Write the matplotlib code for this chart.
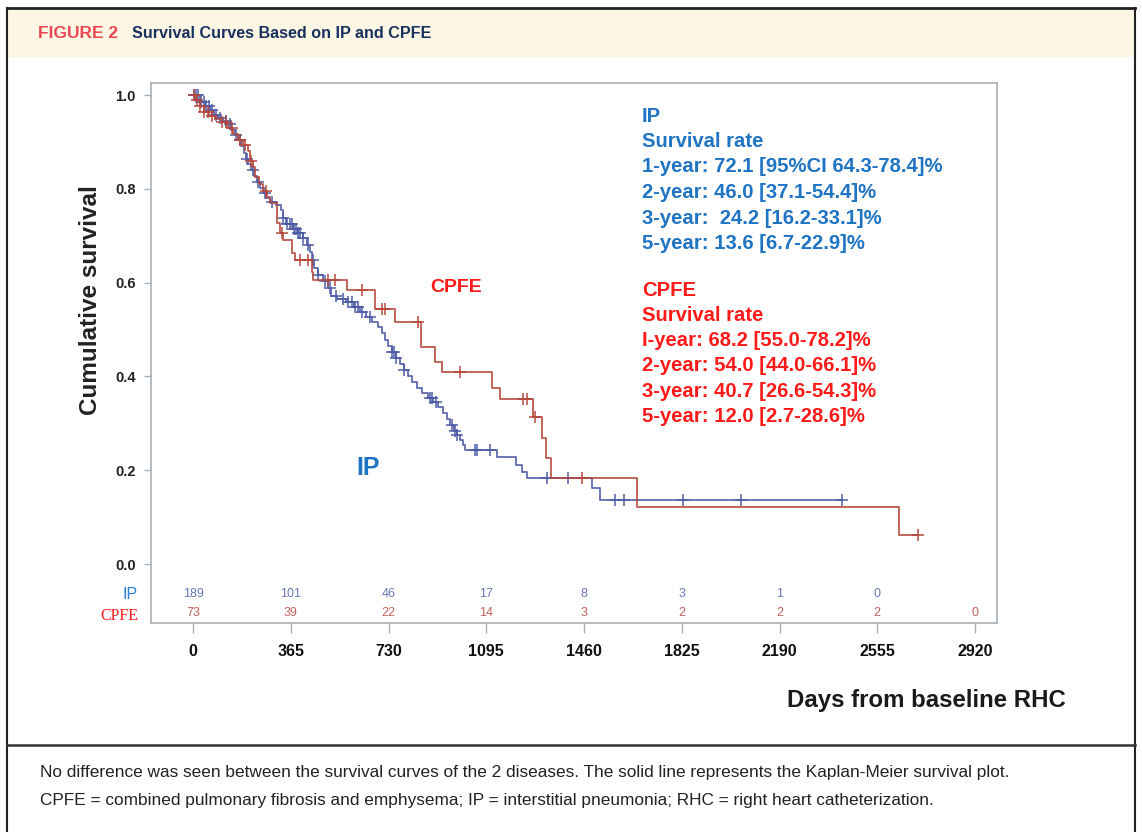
#!/usr/bin/env python3
"""Kaplan-Meier survival curves for IP and CPFE (Figure 2)."""

import numpy as np
import matplotlib
matplotlib.use("Agg")
from matplotlib import pyplot as plt
from matplotlib import font_manager
from matplotlib.patches import Rectangle
from matplotlib.lines import Line2D

# ---- data (days, survival) ----
ip_event_days = [26, 45, 63, 78, 93, 112, 127, 142, 157, 168, 179, 190, 198, 205, 217,
                 228, 239, 250, 261, 273, 288, 310, 329, 336, 347, 373, 392, 411, 426,
                 437, 444, 452, 467, 485, 504, 515, 538, 571, 601, 624, 646, 668, 691,
                 706, 717, 728, 743, 758, 773, 788, 803, 818, 836, 855, 877, 896, 915,
                 934, 948, 960, 975, 986, 997, 1008, 1016, 1135, 1206, 1228, 1247,
                 1490, 1520]
ip_survival = [0.985, 0.977, 0.968, 0.957, 0.951, 0.945, 0.938, 0.925, 0.915, 0.904,
               0.891, 0.876, 0.864, 0.853, 0.840, 0.827, 0.814, 0.802, 0.791, 0.780,
               0.772, 0.765, 0.755, 0.738, 0.725, 0.714, 0.706, 0.695, 0.680, 0.665,
               0.648, 0.631, 0.616, 0.603, 0.588, 0.571, 0.565, 0.559, 0.548, 0.537,
               0.527, 0.516, 0.505, 0.493, 0.478, 0.465, 0.452, 0.439, 0.426, 0.414,
               0.401, 0.388, 0.375, 0.365, 0.354, 0.345, 0.335, 0.322, 0.309, 0.296,
               0.284, 0.275, 0.264, 0.254, 0.243, 0.228, 0.211, 0.196, 0.183, 0.162,
               0.136]
ip_censor_days = [5, 11, 19, 30, 41, 49, 60, 71, 86, 101, 123, 138, 161, 176, 202, 224,
                  243, 269, 295, 336, 351, 362, 370, 377, 385, 392, 400, 411, 429, 448,
                  467, 493, 512, 534, 560, 579, 594, 605, 616, 631, 661, 743, 751, 758,
                  788, 885, 892, 907, 967, 978, 986, 1053, 1060, 1109, 1322, 1400, 1576,
                  1609, 1830, 2046, 2423]
ip_last_day = 2423

cpfe_event_days = [11, 26, 41, 60, 82, 108, 131, 149, 168, 187, 205, 213, 224, 232, 246,
                   261, 276, 288, 314, 325, 336, 370, 381, 444, 448, 575, 680, 754, 851,
                   904, 930, 1116, 1146, 1270, 1303, 1318, 1337, 1658, 2636]
cpfe_survival = [0.989, 0.977, 0.964, 0.955, 0.949, 0.942, 0.930, 0.917, 0.904, 0.893,
                 0.881, 0.859, 0.846, 0.825, 0.810, 0.795, 0.783, 0.770, 0.727, 0.706,
                 0.691, 0.663, 0.648, 0.623, 0.606, 0.584, 0.544, 0.516, 0.463, 0.431,
                 0.409, 0.375, 0.352, 0.313, 0.269, 0.226, 0.183, 0.122, 0.062]
cpfe_censor_days = [4, 15, 26, 41, 56, 71, 108, 123, 146, 176, 194, 217, 273, 332, 400,
                    429, 504, 530, 631, 706, 717, 840, 997, 1232, 1247, 1277, 1453, 2707]
cpfe_last_day = 2707

risk_days = [0, 365, 730, 1095, 1460, 1825, 2190, 2555, 2920]
ip_at_risk = [189, 101, 46, 17, 8, 3, 1, 0]
cpfe_at_risk = [73, 39, 22, 14, 3, 2, 2, 2, 0]

ip_text = ["IP", "Survival rate", "1-year: 72.1 [95%CI 64.3-78.4]%",
           "2-year: 46.0 [37.1-54.4]%", "3-year:  24.2 [16.2-33.1]%",
           "5-year: 13.6 [6.7-22.9]%"]
cpfe_text = ["CPFE", "Survival rate", "I-year: 68.2 [55.0-78.2]%",
             "2-year: 54.0 [44.0-66.1]%", "3-year: 40.7 [26.6-54.3]%",
             "5-year: 12.0 [2.7-28.6]%"]

IP_LINE = "#4d5ba6"
CPFE_LINE = "#b5473c"
IP_TEXT = "#1f74c4"
CPFE_TEXT = "#ff1a1a"

installed = {f.name for f in font_manager.fontManager.ttflist}
NARROW = "Liberation Sans Narrow" if "Liberation Sans Narrow" in installed else "Liberation Sans"
plt.rcParams["font.family"] = ["Liberation Sans", "DejaVu Sans"]


def km_steps(days, surv, last_day):
    x = [0] + list(days) + [last_day]
    y = [1.0] + list(surv) + [surv[-1]]
    return x, y


def censor_levels(days, surv, censors):
    days = np.asarray(days)
    vals = np.concatenate([[1.0], surv])
    idx = np.searchsorted(days, censors, side="right")
    return vals[idx]


W, H = 1142, 832
fig = plt.figure(figsize=(W / 100, H / 100), dpi=100)


def fx(px):
    return px / W


def fy(py):
    return 1 - py / H


# frame, header band and caption divider
fig.add_artist(Rectangle((fx(7), fy(57)), fx(1128), 49 / H, transform=fig.transFigure,
                         facecolor="#fdf6e4", edgecolor="none", zorder=0))
fig.add_artist(Line2D([fx(7), fx(1135)], [fy(8), fy(8)], color="#222222", lw=2))
fig.add_artist(Line2D([fx(7), fx(7)], [fy(8), fy(832)], color="#222222", lw=1.5))
fig.add_artist(Line2D([fx(1135), fx(1135)], [fy(8), fy(832)], color="#222222", lw=1.5))
fig.add_artist(Line2D([fx(7), fx(1135)], [fy(745), fy(745)], color="#333333", lw=1.8))

fig.text(fx(38), fy(34), "FIGURE 2", color="#ec4a52", fontsize=12.5,
         fontweight="bold", va="center")
fig.text(fx(132), fy(34), "Survival Curves Based on IP and CPFE", color="#19305f",
         fontsize=11.6, fontweight="bold", va="center", family=NARROW)

fig.text(fx(40), fy(773), "No difference was seen between the survival curves of the 2 diseases. "
         "The solid line represents the Kaplan-Meier survival plot.",
         fontsize=12.4, color="#222222", va="center", family=NARROW)
fig.text(fx(40), fy(801), "CPFE = combined pulmonary fibrosis and emphysema; "
         "IP = interstitial pneumonia; RHC = right heart catheterization.",
         fontsize=12.4, color="#222222", va="center", family=NARROW)

# main axes
ax = fig.add_axes([fx(151), fy(623), (997 - 151) / W, (623 - 83) / H])
ax.set_xlim(-157, 3002)
ax.set_ylim(-0.1258, 1.0256)

x, y = km_steps(ip_event_days, ip_survival, ip_last_day)
ax.step(x, y, where="post", color=IP_LINE, lw=1.3, alpha=0.9)
ax.plot(ip_censor_days, censor_levels(ip_event_days, ip_survival, ip_censor_days),
        ls="none", marker="+", ms=9, mew=1.2, color=IP_LINE, alpha=0.9)

x, y = km_steps(cpfe_event_days, cpfe_survival, cpfe_last_day)
ax.step(x, y, where="post", color=CPFE_LINE, lw=1.3, alpha=0.9)
ax.plot(cpfe_censor_days, censor_levels(cpfe_event_days, cpfe_survival, cpfe_censor_days),
        ls="none", marker="+", ms=9, mew=1.2, color=CPFE_LINE, alpha=0.9)

for sp in ax.spines.values():
    sp.set_color("#a8b0b8")
    sp.set_linewidth(1.2)

ax.set_yticks([0.0, 0.2, 0.4, 0.6, 0.8, 1.0])
ax.set_yticklabels(["0.0", "0.2", "0.4", "0.6", "0.8", "1.0"], fontweight="bold",
                   fontsize=10.5, color="#222222")
ax.set_xticks(risk_days)
ax.set_xticklabels([str(d) for d in risk_days], fontweight="bold", fontsize=11.5,
                   color="#111111", family=NARROW)
ax.tick_params(axis="y", length=5, width=1, color="#a8b0b8", pad=6)
ax.tick_params(axis="x", length=7, width=1, color="#a8b0b8", pad=8)

ax.set_ylabel("Cumulative survival", fontsize=17.5, fontweight="bold", color="#222222")
ax.yaxis.set_label_coords(-0.058, 0.598, transform=ax.transAxes)

# numbers at risk, inside the frame
for d, n in zip(risk_days, ip_at_risk):
    ax.text(d, -0.064, str(n), color="#6a78b8", fontsize=9, ha="center", va="center",
            family=NARROW)
for d, n in zip(risk_days, cpfe_at_risk):
    ax.text(d, -0.104, str(n), color="#c0625a", fontsize=9, ha="center", va="center",
            family=NARROW)
ax.text(-237, -0.066, "IP", color="#2a7fd4", fontsize=11.5, ha="center", va="center",
        clip_on=False, family=NARROW)
ax.text(-275, -0.110, "CPFE", color="#ff1a1a", fontsize=11.5, ha="center", va="center",
        clip_on=False, family=["Liberation Serif"])

# curve labels
ax.text(653, 0.205, "IP", color=IP_TEXT, fontsize=18, fontweight="bold", ha="center",
        va="center")
ax.text(982, 0.590, "CPFE", color=CPFE_TEXT, fontsize=14, fontweight="bold",
        ha="center", va="center")

for i, line in enumerate(ip_text):
    fig.text(fx(642), fy(116 + 25.5 * i), line, color=IP_TEXT, fontsize=14.6,
             fontweight="bold", va="center")
for i, line in enumerate(cpfe_text):
    fig.text(fx(642), fy(290 + 25.3 * i), line, color=CPFE_TEXT, fontsize=14.6,
             fontweight="bold", va="center")

fig.text(fx(1066), fy(700), "Days from baseline RHC", color="#1a1a1a", fontsize=17.3,
         fontweight="bold", ha="right", va="center")

fig.savefig("out.png", dpi=100)
